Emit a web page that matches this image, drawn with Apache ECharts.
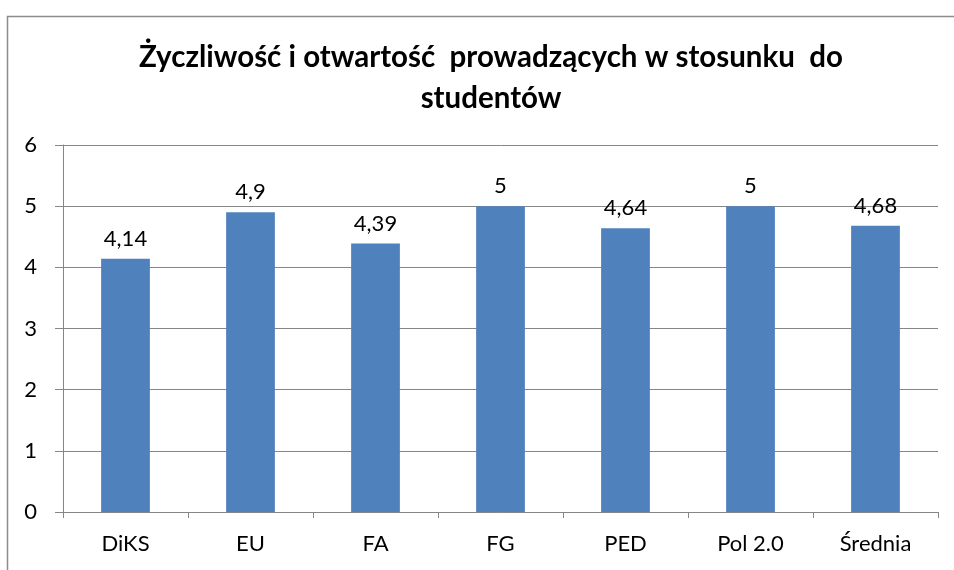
<!DOCTYPE html>
<html><head><meta charset="utf-8">
<script src="https://cdn.jsdelivr.net/npm/echarts@6/dist/echarts.min.js"></script>
<style>html,body{margin:0;padding:0;background:#fff}#c{width:954px;height:570px}</style>
</head><body><div id="c"></div>
<script>
const categories = ['DiKS', 'EU', 'FA', 'FG', 'PED', 'Pol 2.0', 'Średnia'];
const values = [4.14, 4.9, 4.39, 5, 4.64, 5, 4.68];
const titleText = 'Życzliwość i otwartość  prowadzących w stosunku  do\nstudentów';
const FONT = 'Lato, "Noto Sans", sans-serif';
const chart = echarts.init(document.getElementById('c'));
chart.setOption({
  animation: false,
  backgroundColor: '#fff',
  graphic: [{type: 'rect', left: 5, top: 14, shape: {width: 1000, height: 600}, style: {fill: 'none', stroke: '#8c8c8c', lineWidth: 1.5}, z: -1}],
  title: {
    text: titleText, left: 486, top: 32, textAlign: 'center',
    textStyle: {fontFamily: FONT, fontWeight: 'bold', fontSize: 29.5, lineHeight: 41, color: '#000'}
  },
  grid: {left: 63, right: 16, top: 145, bottom: 58},
  xAxis: {
    type: 'category', data: categories,
    axisLine: {lineStyle: {color: '#868686', width: 1}},
    axisTick: {show: true, length: 6, lineStyle: {color: '#868686'}},
    axisLabel: {fontFamily: FONT, fontSize: 22, color: '#000', margin: 21}
  },
  yAxis: {
    type: 'value', min: 0, max: 6, interval: 1,
    axisLine: {show: true, lineStyle: {color: '#868686', width: 1}},
    axisTick: {show: true, length: 8, lineStyle: {color: '#868686'}},
    axisLabel: {fontFamily: FONT, fontSize: 22, color: '#000', margin: 26},
    splitLine: {lineStyle: {color: '#868686', width: 1}}
  },
  series: [{
    type: 'bar', data: values, barWidth: '39%',
    itemStyle: {color: '#4F81BD'},
    label: {show: true, position: 'top', distance: 9, fontFamily: FONT, fontSize: 22, color: '#000',
      formatter: p => String(p.value).replace('.', ',')}
  }]
});
</script></body></html>
